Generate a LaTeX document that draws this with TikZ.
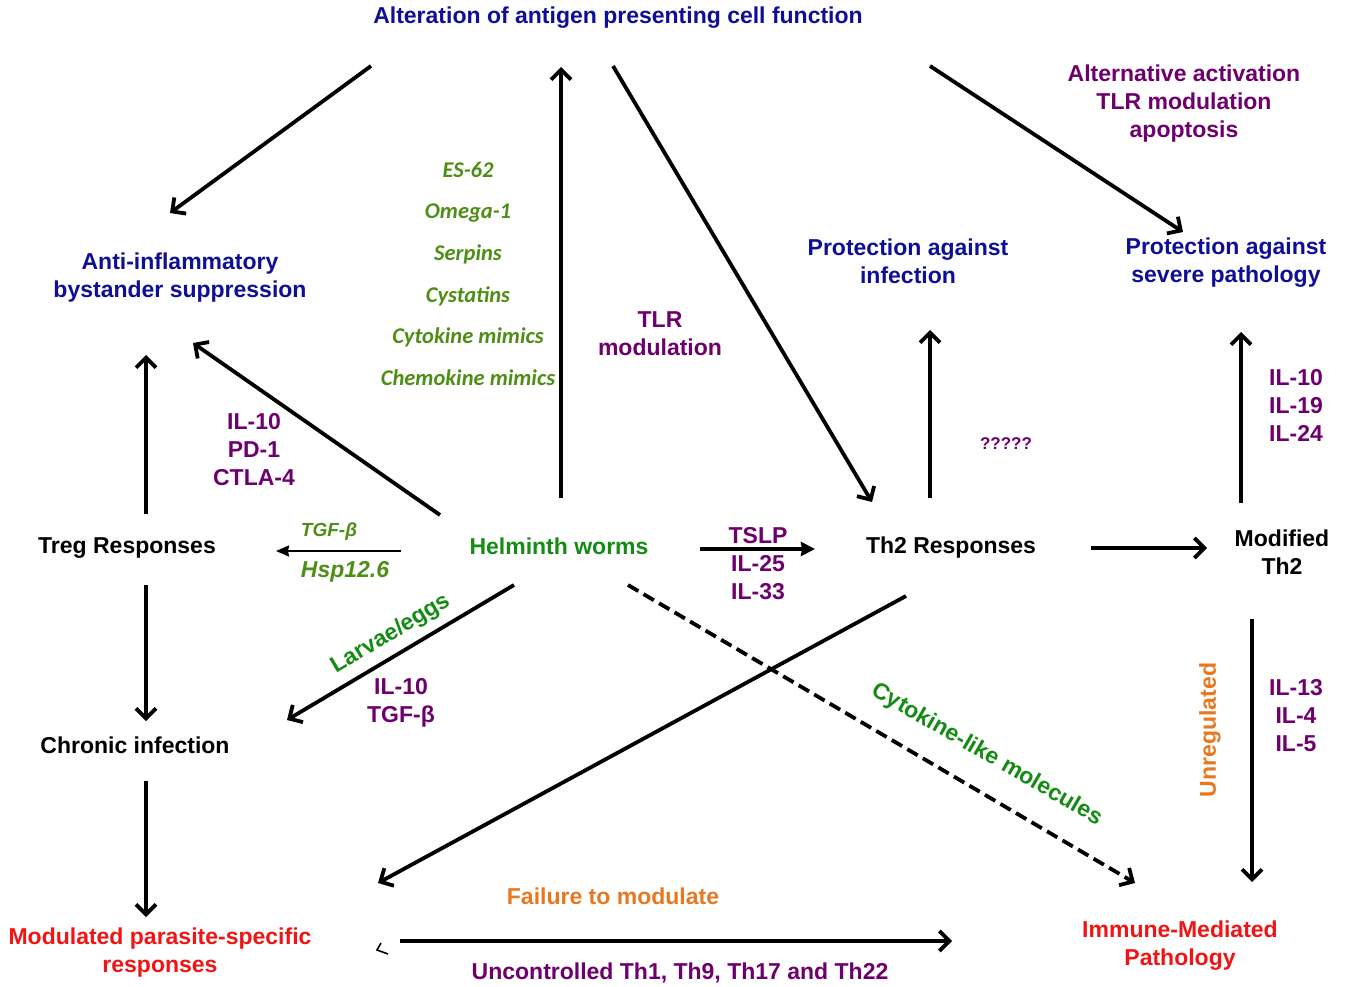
\documentclass[tikz,border=0pt]{standalone}
\usepackage{fontspec}
\setmainfont{Liberation Sans}
\newfontfamily\calfont{Carlito}
\usetikzlibrary{arrows.meta}
\definecolor{cblue}{RGB}{14,14,150}
\definecolor{cpurple}{RGB}{110,0,110}
\definecolor{cgreen}{RGB}{20,140,20}
\definecolor{colive}{RGB}{78,142,22}
\definecolor{corange}{RGB}{232,120,32}
\definecolor{cred}{RGB}{240,20,20}
\begin{document}
\begin{tikzpicture}[x=1pt,y=-1pt,
  lbl/.style={inner sep=0pt, align=center, font=\bfseries\fontsize{23}{28}\selectfont},
  blue/.style={lbl, text=cblue},
  purp/.style={lbl, text=cpurple},
  blk/.style={lbl, text=black},
  grn/.style={lbl, text=cgreen},
  org/.style={lbl, text=corange},
  rd/.style={lbl, text=cred},
  olv/.style={inner sep=0pt, text=colive, font=\calfont\bfseries\itshape\fontsize{22.5}{28}\selectfont},
  olva/.style={inner sep=0pt, text=colive, font=\bfseries\itshape\fontsize{#1}{28}\selectfont},
  arr/.style={line width=3.8pt, -{Straight Barb[length=10pt,width=20pt]}},
  darr/.style={arr, dash pattern=on 12pt off 6pt}]
\useasboundingbox (0,0) rectangle (1353,987);

% text nodes
\node[blue] (apc) at (618,18) {Alteration of antigen presenting cell function};
\node[purp] (alt) at (1184,104) {Alternative activation\\TLR modulation\\apoptosis};
\node[blue] (anti) at (180,278) {Anti-inflammatory\\bystander suppression};
\node[olv] (es) at (468,170) {ES-62};
\node[olv] (om) at (468,213) {Omega-1};
\node[olv] (ser) at (468,254) {Serpins};
\node[olv] (cys) at (468,296) {Cystatins};
\node[olv] (cyt) at (468,337) {Cytokine mimics};
\node[olv] (che) at (468,378) {Chemokine mimics};
\node[purp] (tlr) at (660,334) {TLR\\modulation};
\node[blue] (pinf) at (908,261) {Protection against\\infection};
\node[blue] (psev) at (1226,263) {Protection against\\severe pathology};
\node[purp] (il1019) at (1296,405) {IL-10\\IL-19\\IL-24};
\node[purp, font=\bfseries\fontsize{17}{20}\selectfont] (q) at (1006,444) {?????};
\node[purp] (ilpd) at (254,450) {IL-10\\PD-1\\CTLA-4};
\node[blk] (treg) at (127,548) {Treg Responses};
\node[olva=19] (tgf) at (329,532) {TGF-β};
\node[olva=23] (hsp) at (345,572) {Hsp12.6};
\node[grn] (hw) at (559,546) {Helminth worms};
\node[purp] (tslp) at (758,564) {TSLP\\IL-25\\IL-33};
\node[blk] (th2) at (951,548) {Th2 Responses};
\node[blk] (mth2) at (1282,552) {Modified\\Th2};
\node[grn, rotate=31] (larv) at (391,634) {Larvae/eggs};
\node[purp] (iltgf) at (401,703) {IL-10\\TGF-β};
\node[blk] (chr) at (135,745) {Chronic infection};
\node[grn, rotate=-30] (cyto) at (987,755) {Cytokine-like molecules};
\node[org, rotate=90] (unreg) at (1210,730) {Unregulated};
\node[purp] (il13) at (1296,716) {IL-13\\IL-4\\IL-5};
\node[org] (fail) at (613,896) {Failure to modulate};
\node[rd] (mod) at (160,953) {Modulated parasite-specific\\responses};
\node[purp] (unc) at (680,973) {Uncontrolled Th1, Th9, Th17 and Th22};
\node[rd] (imp) at (1180,946) {Immune-Mediated\\Pathology};

% connector end points
\coordinate (a1s) at (371,66);   \coordinate (a1e) at (170,213);
\coordinate (a2s) at (561,498);  \coordinate (a2e) at (561,67);
\coordinate (a3s) at (613,66);   \coordinate (a3e) at (872,502);
\coordinate (a4s) at (930,66);   \coordinate (a4e) at (1183,232);
\coordinate (a5s) at (440,515);  \coordinate (a5e) at (193,343);
\coordinate (a6s) at (146,514);  \coordinate (a6e) at (146,355);
\coordinate (a7s) at (401,551);  \coordinate (a7e) at (276,551);
\coordinate (a8s) at (700,549);  \coordinate (a8e) at (815,549);
\coordinate (a9s) at (930,498);  \coordinate (a9e) at (930,330);
\coordinate (a10s) at (1091,548); \coordinate (a10e) at (1207,548);
\coordinate (a11s) at (1241,503); \coordinate (a11e) at (1241,332);
\coordinate (a12s) at (146,585); \coordinate (a12e) at (146,721);
\coordinate (a13s) at (514,585); \coordinate (a13e) at (287,720);
\coordinate (a14s) at (628,585); \coordinate (a14e) at (1135,883);
\coordinate (a15s) at (906,596); \coordinate (a15e) at (378,883);
\coordinate (a16s) at (146,781); \coordinate (a16e) at (146,917);
\coordinate (a17s) at (1252,619); \coordinate (a17e) at (1252,882);
\coordinate (a18s) at (400,941); \coordinate (a18e) at (952,941);

\draw[arr] (a1s) -- (a1e);
\draw[arr] (a2s) -- (a2e);
\draw[arr] (a3s) -- (a3e);
\draw[arr] (a4s) -- (a4e);
\draw[arr] (a5s) -- (a5e);
\draw[arr] (a6s) -- (a6e);
\draw[line width=2pt, -{Stealth[length=13pt,width=11pt,inset=1pt]}] (a7s) -- (a7e);
\draw[line width=3.6pt, -{Stealth[length=14pt,width=14pt,inset=1pt]}] (a8s) -- (a8e);
\draw[arr] (a9s) -- (a9e);
\draw[arr] (a10s) -- (a10e);
\draw[arr] (a11s) -- (a11e);
\draw[arr] (a12s) -- (a12e);
\draw[arr] (a13s) -- (a13e);
\draw[darr] (a14s) -- (a14e);
\draw[arr] (a15s) -- (a15e);
\draw[arr] (a16s) -- (a16e);
\draw[arr] (a17s) -- (a17e);
\draw[arr] (a18s) -- (a18e);
% stray mark
\draw[line width=1.6pt] (381,943) -- (377,950) -- (388,954);
\end{tikzpicture}
\end{document}
